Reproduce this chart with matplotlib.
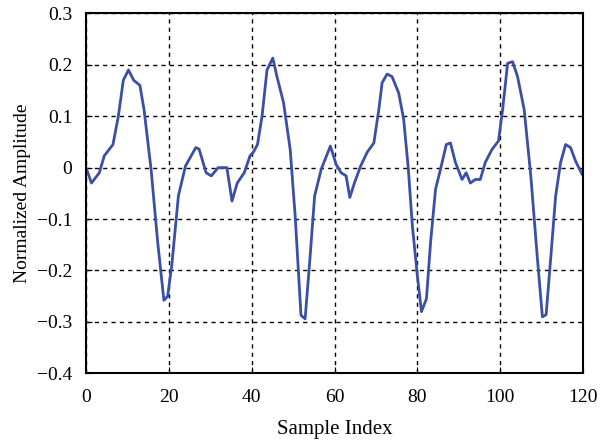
import matplotlib
matplotlib.use('Agg')
import matplotlib.pyplot as plt

# points
sample_idx = [0, 1.3, 3.2, 4.4, 6.5, 7.8, 9, 10.25, 11.5, 13, 14, 15.7, 17.3, 18.8, 19.7,
              20.7, 22.3, 24, 26.5, 27.3, 29, 30.25, 31.9, 34, 35.25, 36.5, 38.2, 39.6,
              40.4, 41.4, 42.5, 43.7, 45.1, 46.1, 47.7, 49.3, 50.5, 51.9, 52.9, 54, 55.2,
              56.8, 59, 60.4, 61.6, 62.8, 63.7, 64.8, 66.3, 67.9, 69.5, 70.7, 71.5, 72.7,
              73.9, 75.5, 76.7, 77.8, 78.8, 80, 81, 82.2, 83.2, 84.4, 85.6, 87, 88, 89.2,
              90.8, 91.8, 92.8, 94, 95.2, 96.4, 98, 99.6, 100.6, 101.8, 103, 104.2, 105.8,
              107.4, 109, 110.2, 111.1, 112.2, 113.4, 114.6, 115.8, 117, 118.2, 119.8]
amplitude = [0, -0.03, -0.01, 0.023, 0.045, 0.1, 0.17, 0.19, 0.17, 0.16, 0.113, -0.003,
             -0.145, -0.258, -0.25, -0.19, -0.055, 0.003, 0.039, 0.036, -0.01, -0.016, 0,
             0, -0.065, -0.03, -0.01, 0.023, 0.03, 0.045, 0.1, 0.19, 0.213, 0.177, 0.126,
             0.035, -0.094, -0.287, -0.294, -0.184, -0.055, -0.003, 0.042, 0.006, -0.01,
             -0.016, -0.058, -0.03, 0.003, 0.03, 0.048, 0.113, 0.165, 0.182, 0.177, 0.145,
             0.094, 0.0, -0.113, -0.21, -0.28, -0.255, -0.145, -0.042, -0.003, 0.045,
             0.048, 0.01, -0.023, -0.01, -0.03, -0.023, -0.023, 0.01, 0.035, 0.052, 0.113,
             0.203, 0.206, 0.177, 0.113, -0.016, -0.177, -0.29, -0.286, -0.177, -0.055,
             0.01, 0.045, 0.039, 0.013, -0.013]

plt.rcParams['font.family'] = ['Liberation Serif', 'DejaVu Serif']

fig = plt.figure(figsize=(6.06, 4.45), dpi=100)
ax = fig.add_axes([0.142, 0.161, 0.820, 0.809])
ax.plot(sample_idx, amplitude, color='#3b4fa6', linewidth=2)

ax.set_xlim(0, 120)
ax.set_ylim(-0.4, 0.3)
ax.set_xticks(range(0, 121, 20))
ax.set_yticks([-0.4, -0.3, -0.2, -0.1, 0, 0.1, 0.2, 0.3])
ax.set_yticklabels(['\u22120.4', '\u22120.3', '\u22120.2', '\u22120.1', '0', '0.1', '0.2', '0.3'])
ax.grid(True, color='black', linestyle=(0, (3, 3)), linewidth=1)
ax.tick_params(direction='in', labelsize=14, length=4)
ax.tick_params(axis='x', pad=11)
ax.tick_params(axis='y', pad=10)
for s in ax.spines.values():
    s.set_linewidth(1.5)

ax.set_xlabel('Sample Index', fontsize=15, labelpad=10)
ax.set_ylabel('Normalized Amplitude', fontsize=14, labelpad=4)

plt.savefig('out.png', dpi=100)
